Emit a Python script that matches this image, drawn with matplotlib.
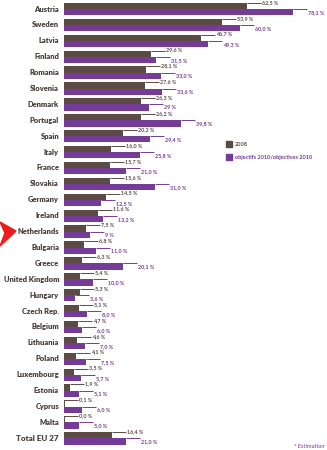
import numpy as np
import matplotlib
matplotlib.use("Agg")
import matplotlib.pyplot as plt
from matplotlib.patches import Polygon

countries = ["Austria", "Sweden", "Latvia", "Finland", "Romania", "Slovenia",
             "Denmark", "Portugal", "Spain", "Italy", "France", "Slovakia",
             "Germany", "Ireland", "Netherlands", "Bulgaria", "Greece",
             "United Kingdom", "Hungary", "Czech Rep.", "Belgium", "Lithuania",
             "Poland", "Luxembourg", "Estonia", "Cyprus", "Malta", "Total EU 27"]
share_2008 = [62.5, 53.9, 46.7, 29.6, 28.1, 27.6, 26.3, 26.2, 20.2, 16.0, 15.7,
              15.6, 14.5, 11.6, 7.5, 6.8, 6.3, 5.4, 5.3, 5.1, 4.7, 4.6, 4.1,
              3.5, 1.9, 0.1, 0.0, 16.4]
target_2010 = [78.1, 60.0, 49.3, 31.5, 33.0, 33.6, 29.0, 39.8, 29.4, 25.8, 21.0,
               31.0, 12.5, 13.2, 9.0, 11.0, 20.1, 10.0, 3.6, 8.0, 6.0, 7.0, 7.5,
               5.7, 5.1, 6.0, 5.0, 21.0]
target_labels = ["78,1 %", "60,0 %", "49,3 %", "31,5 %", "33,0 %", "33,6 %",
                 "29 %", "39,8 %", "29,4 %", "25,8 %", "21,0 %", "31,0 %",
                 "12,5 %", "13,2 %", "9 %", "11,0 %", "20,1 %", "10,0 %",
                 "3,6 %", "8,0 %", "6,0 %", "7,0 %", "7,5 %", "5,7 %", "5,1 %",
                 "6,0 %", "5,0 %", "21,0 %"]

brown = "#5b4b42"
purple = "#743b97"
text_col = "#4a3f3a"
narrow = ["Lato", "DejaVu Sans"]

W, H = 327, 450
fig = plt.figure(figsize=(W / 100, H / 100), dpi=100)
fig.patch.set_facecolor("white")

x0 = 64          # pixel of value 0
px_per = 2.93    # pixels per percent
pitch = 15.9
c0 = 9.0         # pixel y of first row centre
ax = fig.add_axes([x0 / W, 0, 1 - x0 / W, 1])
ax.set_xlim(0, (W - x0) / px_per)
ax.set_ylim((H - c0) / pitch, -c0 / pitch)
ax.axis("off")

y = np.arange(len(countries))
bh = 6.2 / pitch
ax.barh(y - bh / 2, share_2008, height=bh, color=brown)
ax.barh(y + bh / 2, target_2010, height=bh, color=purple)

lead = 14 / px_per
fs_val = 3.9
for i in range(len(countries)):
    v1, v2 = share_2008[i], target_2010[i]
    yt = i - bh
    ax.plot([v1, v1 + lead], [yt, yt], color=brown, lw=0.7, solid_capstyle="butt")
    if v1 < 0.5:
        ax.plot([v1, v1], [yt, i], color=brown, lw=0.7)
    ax.text(v1 + lead + 1 / px_per, yt - 0.03, ("%.1f %%" % v1).replace(".", ","),
            fontsize=fs_val, color=brown, va="center", ha="left",
            fontweight="bold", family=narrow)
    ax.plot([v2, v2 + lead], [i, i], color=purple, lw=0.7, solid_capstyle="butt")
    ax.text(v2 + lead + 1 / px_per, i + 0.22, target_labels[i],
            fontsize=fs_val, color=purple, va="center", ha="left",
            fontweight="bold", family=narrow)
    last = i == len(countries) - 1
    ax.text(-5 / px_per, i, countries[i], fontsize=5.8 if last else 5.4,
            color=text_col, va="center", ha="right", fontweight="heavy",
            family=narrow)

# legend
fig.patches.append(plt.Rectangle((226 / W, 1 - 147 / H), 6 / W, 6 / H,
                                 color=brown, transform=fig.transFigure))
fig.patches.append(plt.Rectangle((226 / W, 1 - 160 / H), 6 / W, 6 / H,
                                 color=purple, transform=fig.transFigure))
fig.text(235 / W, 1 - 144 / H, "2008", fontsize=4, color=brown,
         va="center", ha="left", fontweight="bold", family=narrow)
fig.text(235 / W, 1 - 157 / H, "objectifs 2010/objectives 2010", fontsize=4,
         color=purple, va="center", ha="left", fontweight="bold", family=narrow)

fig.text(325 / W, 1 - 446 / H, "* Estimation", fontsize=4.3, color=purple,
         va="center", ha="right", style="italic", family=narrow)

# red pointer at Netherlands
arrow = Polygon([(0, 1 - 222 / H), (16 / W, 1 - 231 / H), (0, 1 - 246 / H),
                 (5 / W, 1 - 233 / H)], closed=True, color="#ee1c1c",
                transform=fig.transFigure)
fig.patches.append(arrow)

fig.savefig("out.png", dpi=100)
